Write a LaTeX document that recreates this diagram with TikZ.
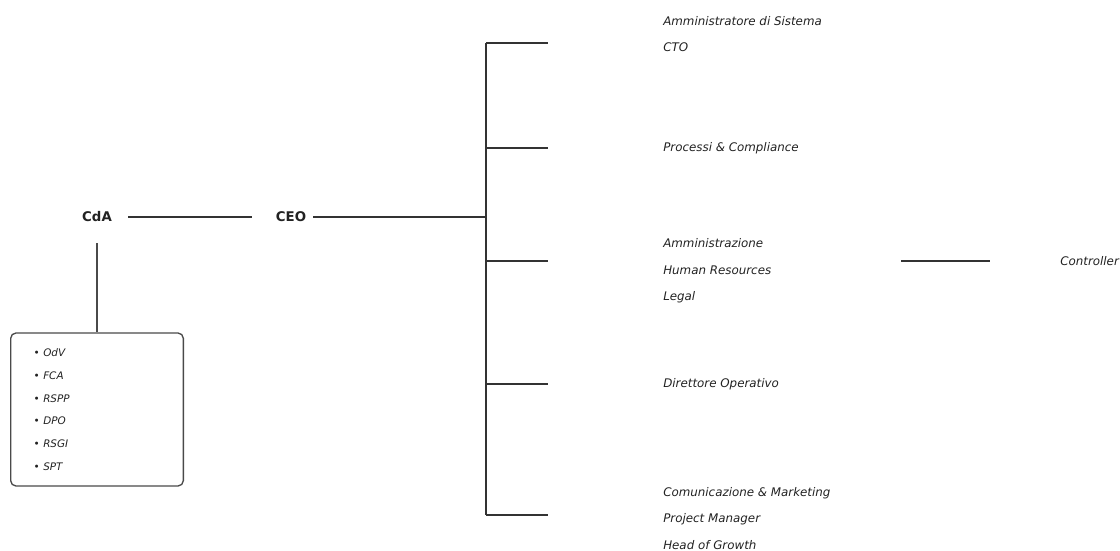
\documentclass[tikz,border=0pt]{standalone}
\usepackage{fontspec}
\setmainfont{DejaVu Sans}
\definecolor{inkc}{HTML}{222222}
\definecolor{linec}{HTML}{333333}
\definecolor{boxc}{HTML}{4A4A4A}
\tikzset{
    head/.style={font=\fontsize{10}{12}\selectfont\bfseries, text=inkc},
    dept/.style={anchor=west, align=left, inner sep=0pt, text=inkc,
        font=\fontsize{8.9}{19.9}\selectfont\itshape},
    listbox/.style={draw=boxc, line width=1pt, rounded corners=4pt, align=left,
        text width=95pt, inner xsep=17.25pt, minimum height=114.75pt, text=inkc,
        font=\fontsize{7.8}{17}\selectfont\itshape},
    link/.style={draw=linec, line width=1pt}
}
\begin{document}
\begin{tikzpicture}[x=0.75pt, y=-0.75pt]
        \useasboundingbox (0,0) rectangle (1120,550);

        \node [head, inner xsep=12pt, inner ysep=15.7pt] (cda) at (97,217) {CdA};
        \node [head, inner xsep=5.25pt] (ceo) at (291,217) {CEO};
        \node [listbox] (cdabox) at (97,409.5)
            {\textbullet\ OdV\\ \textbullet\ FCA\\ \textbullet\ RSPP\\ \textbullet\ DPO\\ \textbullet\ RSGI\\ \textbullet\ SPT};

        \draw [link, shorten >=12.75pt] (cda.east) -- (ceo.west);
        \draw [link, draw=boxc] (cda.south) -- (cdabox.north);

        % bus towards the departments
        \coordinate (bus) at (486,217);
        \coordinate (bustop) at (486,43);
        \coordinate (busbot) at (486,515);
        \coordinate (b1) at (548,43);
        \coordinate (b2) at (548,148);
        \coordinate (b3) at (548,261);
        \coordinate (b4) at (548,384);
        \coordinate (b5) at (548,515);

        \draw [link] (ceo.east) -- (bus);
        \draw [link] (bustop) -- (busbot);
        \draw [link] (bustop) -- (b1);
        \draw [link] (bus |- b2) -- (b2);
        \draw [link] (bus |- b3) -- (b3);
        \draw [link] (bus |- b4) -- (b4);
        \draw [link] (busbot) -- (b5);

        \node [dept] (tech) at (663,34.3) {Amministratore di Sistema\\CTO};
        \node [dept] (proc) at (663,148) {Processi \& Compliance};
        \node [dept] (amm) at (663,270.8) {Amministrazione\\Human Resources\\Legal};
        \node [dept] (ops) at (663,384) {Direttore Operativo};
        \node [dept] (mkt) at (663,518.5) {Comunicazione \& Marketing\\Project Manager\\Head of Growth};

        \coordinate (ammout) at (901,261);
        \node [dept] (ctrl) at (1060,261) {Controller};
        \draw [link, shorten >=52.5pt] (ammout) -- (ctrl.west);

    \end{tikzpicture}
\end{document}
